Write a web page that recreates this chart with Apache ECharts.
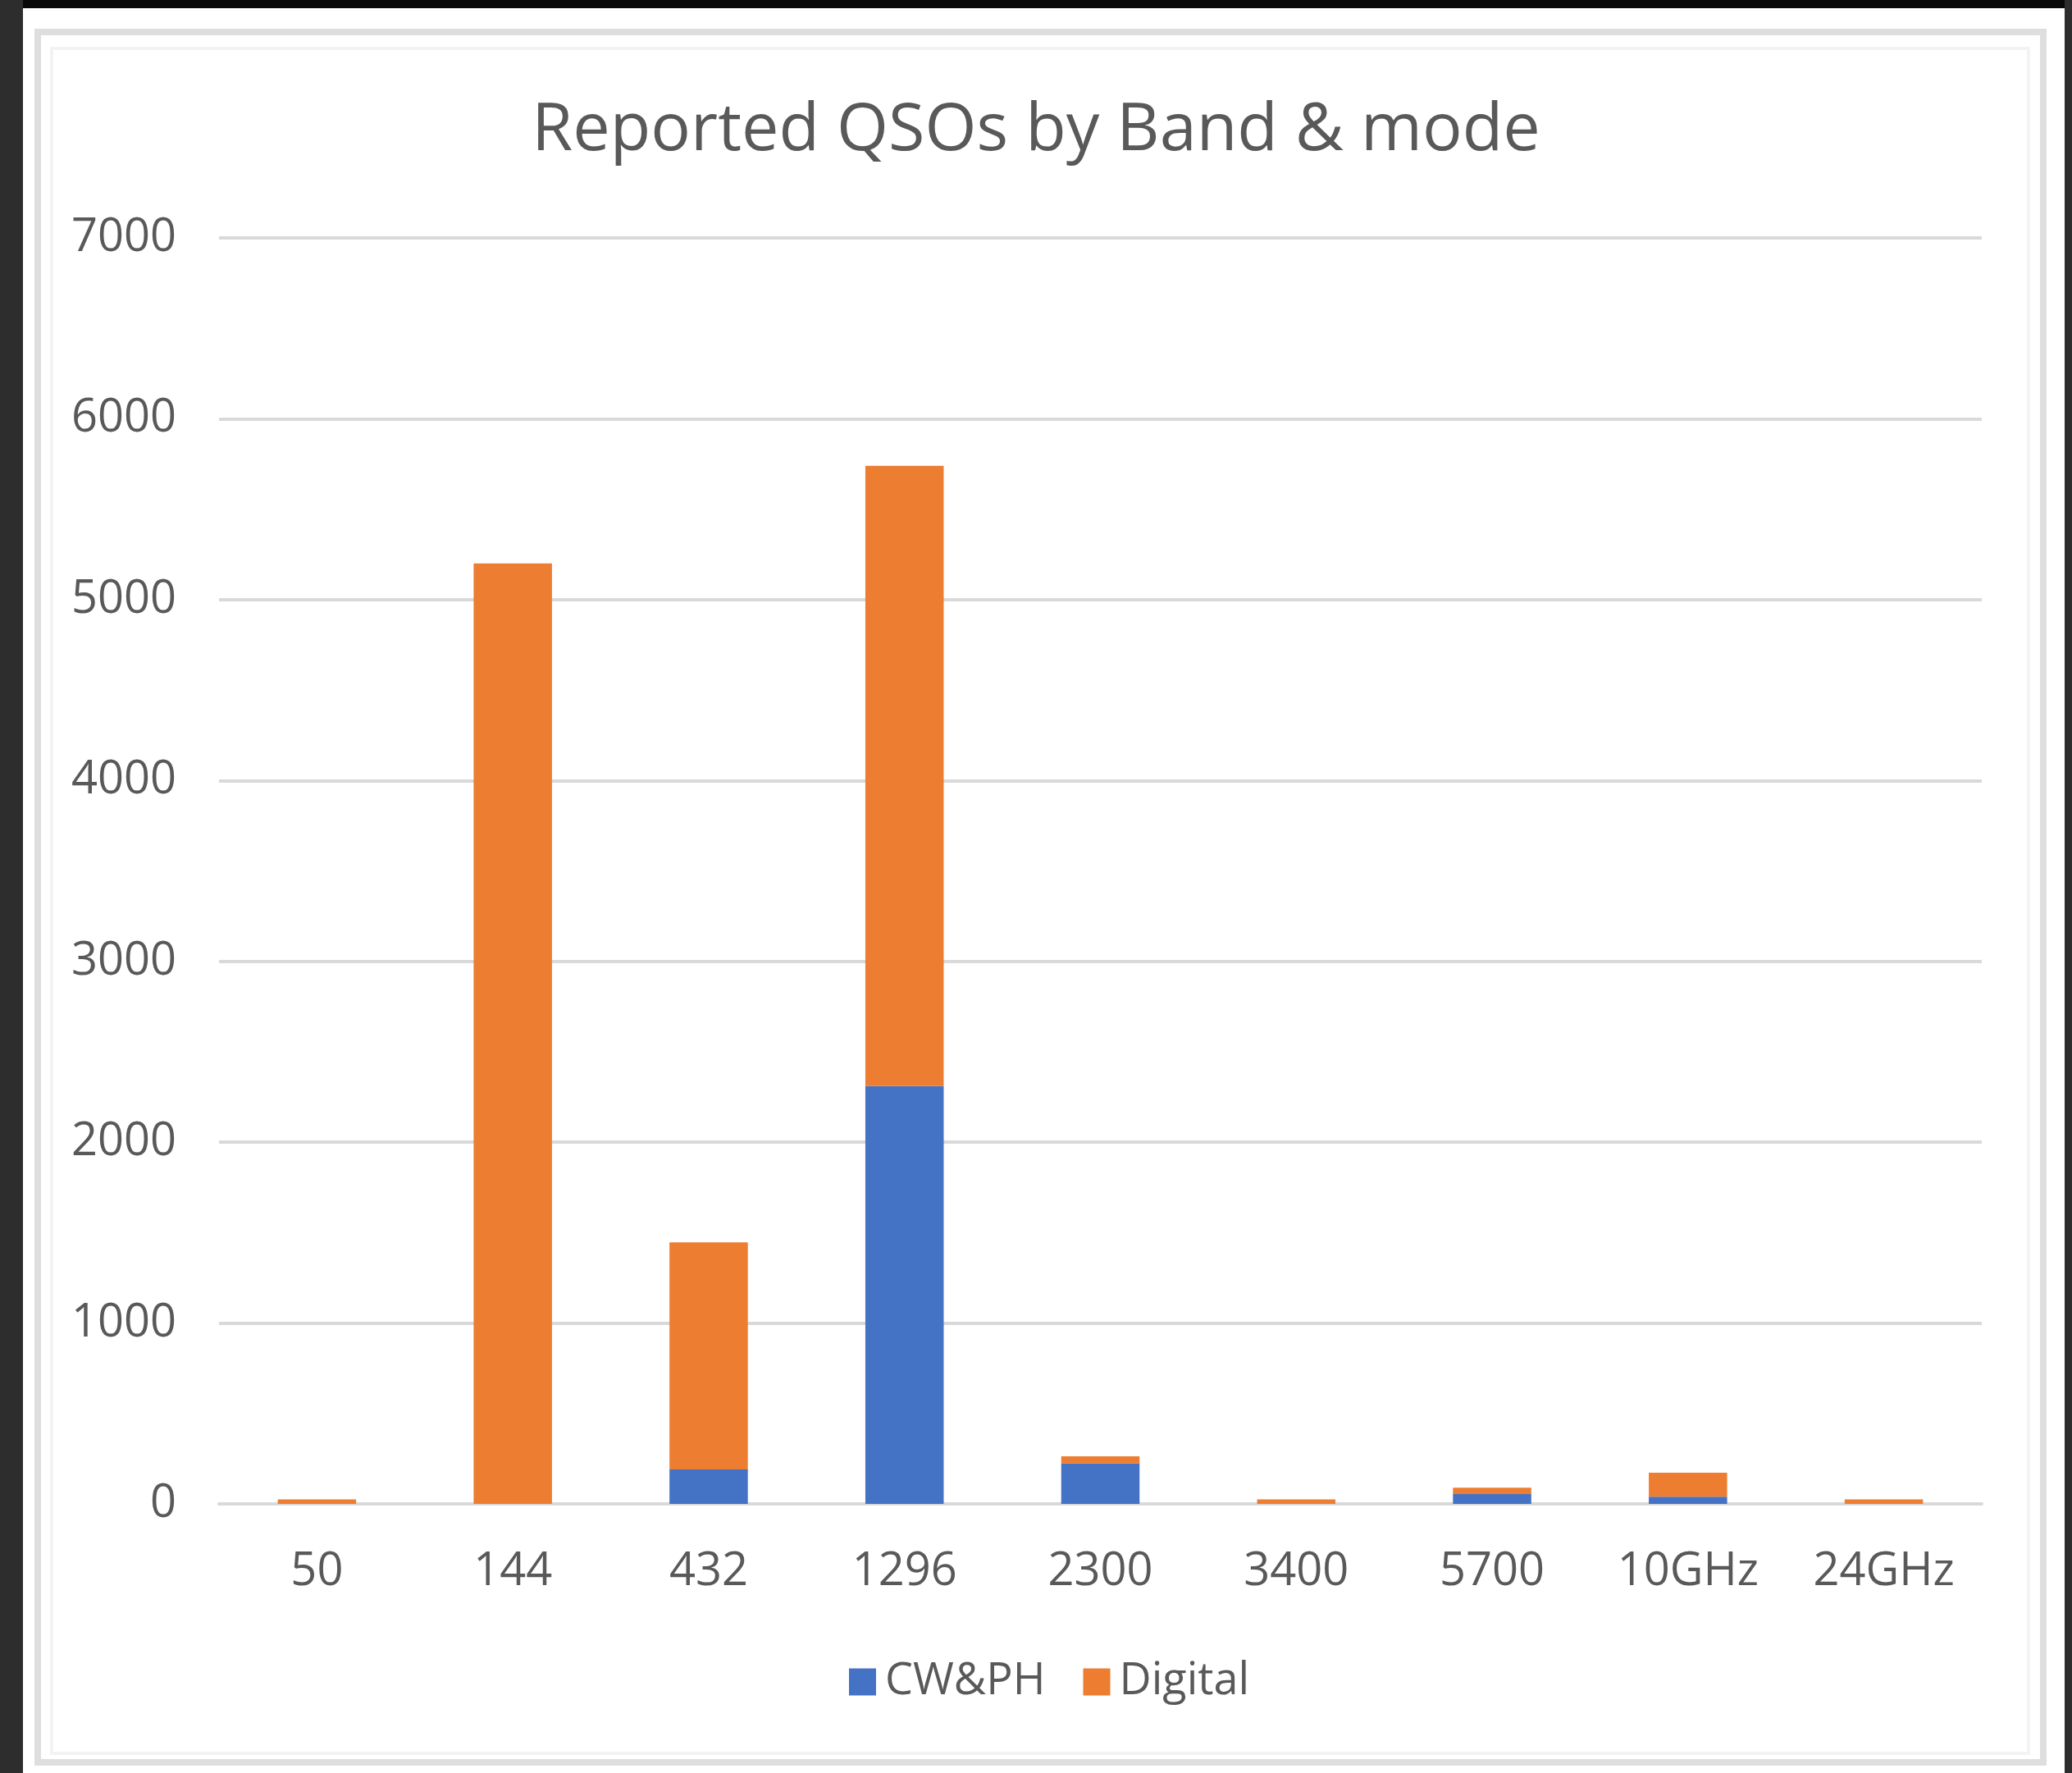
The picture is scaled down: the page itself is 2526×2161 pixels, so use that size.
<!DOCTYPE html>
<html>
<head>
<meta charset="utf-8">
<script src="https://cdn.jsdelivr.net/npm/echarts@6/dist/echarts.min.js"></script>
<style>
  html, body { margin: 0; padding: 0; background: #ffffff; }
  #main { width: 2526px; height: 2161px; }
</style>
</head>
<body>
<div id="main"></div>
<script>
// bands on the x axis
const bands = ['50', '144', '432', '1296', '2300', '3400', '5700', '10GHz', '24GHz'];
// stacked values
const cwph = [0, 0, 190, 2310, 225, 0, 55, 40, 0];
const digital = [25, 5200, 1256, 3430, 38, 25, 35, 132, 25];
const yTicks = [0, 1000, 2000, 3000, 4000, 5000, 6000, 7000];

const textColor = '#595959';
const fontName = '"Open Sans", "Noto Sans", sans-serif';

var chartDom = document.getElementById('main');
var myChart = echarts.init(chartDom);
var option;

option = {
  backgroundColor: '#ffffff',
  animation: false,
  title: {
    text: 'Reported QSOs by Band & mode',
    left: 'center',
    top: 114,
    textStyle: { fontFamily: fontName, fontSize: 81, fontWeight: 'normal', color: textColor }
  },
  legend: {
    data: ['CW&PH', 'Digital'],
    left: 1030,
    top: 2018,
    itemWidth: 33,
    itemHeight: 33,
    itemGap: 46,
    icon: 'rect',
    textStyle: { fontFamily: fontName, fontSize: 54, color: textColor, padding: [0, 0, 0, 6] }
  },
  grid: { left: 267, right: 110, top: 290, bottom: 328 },
  xAxis: {
    type: 'category',
    data: bands,
    axisTick: { show: false },
    axisLine: { lineStyle: { color: '#d9d9d9', width: 4 } },
    axisLabel: { fontFamily: fontName, fontSize: 56, color: textColor, margin: 55 }
  },
  yAxis: {
    type: 'value',
    min: yTicks[0],
    max: yTicks[yTicks.length - 1],
    interval: 1000,
    axisLine: { show: false },
    axisTick: { show: false },
    splitLine: { lineStyle: { color: '#d9d9d9', width: 4 } },
    axisLabel: { fontFamily: fontName, fontSize: 56, color: textColor, margin: 52, formatter: function (v) { return String(v); } }
  },
  series: [
    {
      name: 'CW&PH',
      type: 'bar',
      stack: 'qso',
      barWidth: '40%',
      itemStyle: { color: '#4472c4' },
      data: cwph
    },
    {
      name: 'Digital',
      type: 'bar',
      stack: 'qso',
      barWidth: '40%',
      itemStyle: { color: '#ed7d31' },
      data: digital
    }
  ],
  graphic: [
    // dark surround of the screenshot
    { type: 'rect', z: -10, shape: { x: 0, y: 0, width: 2526, height: 10 }, style: { fill: '#080808' } },
    { type: 'rect', z: -10, shape: { x: 0, y: 0, width: 28, height: 2161 }, style: { fill: '#2d2d2d' } },
    { type: 'rect', z: -10, shape: { x: 2517, y: 0, width: 9, height: 2161 }, style: { fill: '#2d2d2d' } },
    // chart frame
    { type: 'rect', z: -9, shape: { x: 46, y: 39, width: 2445, height: 2109 }, style: { fill: null, stroke: '#dedede', lineWidth: 8 } },
    { type: 'rect', z: -9, shape: { x: 63, y: 59, width: 2410, height: 2078 }, style: { fill: null, stroke: '#f3f3f3', lineWidth: 4 } }
  ]
};
option && myChart.setOption(option);
</script>
</body>
</html>
